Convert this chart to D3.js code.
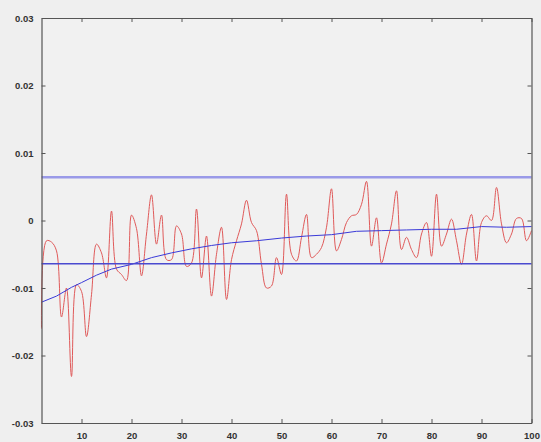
<!DOCTYPE html>
<html>
<head>
<meta charset="utf-8">
<script src="https://cdn.jsdelivr.net/npm/d3@7"></script>
<style>
  html, body { margin: 0; padding: 0; background: #efefef; }
  svg { display: block; }
  .tick text { font-family: "Liberation Sans", Arial, sans-serif; font-size: 9.5px; font-weight: bold; fill: #333; }
</style>
</head>
<body>
<script>
// red series, x = 2..100
var redX = d3.range(2, 101);
var redY = [
  -0.0160, -0.0030, -0.0032, -0.0045, -0.0143, -0.0100, -0.0231, -0.0095, -0.0105, -0.0172,
  -0.0110, -0.0035, -0.0048, -0.0085, 0.0014, -0.0072, -0.0080, -0.0089, 0.0008, -0.0012,
  -0.0082, -0.0020, 0.0038, -0.0035, 0.0008, -0.0058, -0.0058, -0.0008, -0.0020, -0.0068,
  -0.0063, 0.0017, -0.0085, -0.0023, -0.0112, -0.0050, -0.0010, -0.0117, -0.0058, -0.0030,
  -0.0005, 0.0030, -0.0003, -0.0015, -0.0065, -0.0100, -0.0097, -0.0055, -0.0080, 0.0039,
  -0.0050, -0.0060, -0.0025, 0.0009, -0.0055, -0.0050, -0.0040, -0.0010, 0.0047, -0.0045,
  -0.0028, -0.0003, 0.0007, 0.0009, 0.0024, 0.0058, -0.0038, 0.0004, -0.0063, -0.0035,
  -0.0005, 0.0044, -0.0043, -0.0025, -0.0043, -0.0055, -0.0020, -0.0003, -0.0053, 0.0039,
  -0.0038, -0.0020, 0.0002, -0.0030, -0.0065, -0.0020, 0.0009, -0.0060, -0.0003, 0.0007,
  0.0000, 0.0049, -0.0005, -0.0033, -0.0020, 0.0003, 0.0003, -0.0030, -0.0015
];

// smooth blue curve
var blueX = [2, 5, 8, 10, 13, 16, 20, 24, 28, 32, 36, 40, 45, 50, 55, 60, 65, 70, 75, 80, 85, 90, 95, 100];
var blueY = [-0.0121, -0.0112, -0.0099, -0.0092, -0.0081, -0.0072, -0.0065, -0.0055, -0.0048, -0.0042,
  -0.0037, -0.0033, -0.0030, -0.0026, -0.0023, -0.0021, -0.0016, -0.0015, -0.0014, -0.0013,
  -0.0013, -0.0009, -0.0010, -0.0009];

// horizontal limit lines
var limits = [0.0064, -0.0064];

var xTicks = [10, 20, 30, 40, 50, 60, 70, 80, 90, 100];
var yTicks = [-0.03, -0.02, -0.01, 0, 0.01, 0.02, 0.03];

var width = 541, height = 442;
var margin = {top: 18, right: 9.5, bottom: 19, left: 41.5};

var svg = d3.select('body').append('svg')
  .attr('width', width)
  .attr('height', height);

var x = d3.scaleLinear().domain([2, 100]).range([margin.left, width - margin.right]);
var y = d3.scaleLinear().domain([-0.03, 0.03]).range([height - margin.bottom, margin.top]);

function fmt(d) {
  return d === 0 ? '0' : d3.format('.2f')(d).replace('\u2212', '-');
}

// plot area
svg.append('rect')
  .attr('x', x(2)).attr('y', y(0.03))
  .attr('width', x(100) - x(2)).attr('height', y(-0.03) - y(0.03))
  .attr('fill', '#f1f1f1');

var line = d3.line()
  .x(function (d) { return x(d[0]); })
  .y(function (d) { return y(d[1]); });

svg.append('path')
  .datum(redX.map(function (d, i) { return [d, redY[i]]; }))
  .attr('d', line.curve(d3.curveCatmullRom.alpha(0.5)))
  .attr('fill', 'none')
  .attr('stroke', '#e05a5a')
  .attr('stroke-width', 1);

svg.append('path')
  .datum(blueX.map(function (d, i) { return [d, blueY[i]]; }))
  .attr('d', line.curve(d3.curveLinear))
  .attr('fill', 'none')
  .attr('stroke', '#3a3ad8')
  .attr('stroke-width', 1);

svg.selectAll('.limit')
  .data(limits)
  .enter().append('line')
  .attr('class', 'limit')
  .attr('x1', x(2)).attr('x2', x(100))
  .attr('y1', function (d) { return y(d); })
  .attr('y2', function (d) { return y(d); })
  .attr('stroke', function (d, i) { return i === 0 ? '#9a9ae8' : '#4a4ad0'; })
  .attr('stroke-width', function (d, i) { return i === 0 ? 2.5 : 1.5; });

// axes, ticks pointing in
var gb = svg.append('g')
  .attr('transform', 'translate(0,' + y(-0.03) + ')')
  .call(d3.axisBottom(x).tickValues(xTicks).tickSizeInner(-4).tickSizeOuter(0).tickPadding(9));
var gt = svg.append('g')
  .attr('transform', 'translate(0,' + y(0.03) + ')')
  .call(d3.axisTop(x).tickValues(xTicks).tickSizeInner(-4).tickSizeOuter(0).tickFormat(''));
var gl = svg.append('g')
  .attr('transform', 'translate(' + x(2) + ',0)')
  .call(d3.axisLeft(y).tickValues(yTicks).tickSizeInner(-4).tickSizeOuter(0).tickPadding(8).tickFormat(fmt));
var gr = svg.append('g')
  .attr('transform', 'translate(' + x(100) + ',0)')
  .call(d3.axisRight(y).tickValues(yTicks).tickSizeInner(-4).tickSizeOuter(0).tickFormat(''));

[gb, gt, gl, gr].forEach(function (g) {
  g.select('.domain').attr('stroke', '#555').attr('stroke-width', 1.2);
  g.selectAll('.tick line').attr('stroke', '#555');
});
</script>
</body>
</html>
